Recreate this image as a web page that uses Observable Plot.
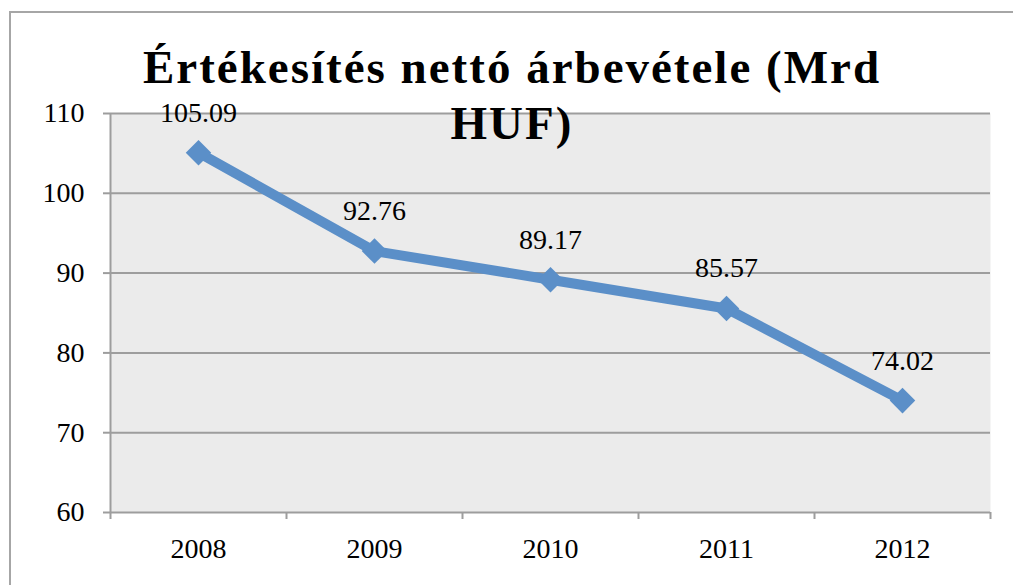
<!DOCTYPE html>
<html>
<head>
<meta charset="utf-8">
<script src="https://cdn.jsdelivr.net/npm/d3@7"></script>
<script src="https://cdn.jsdelivr.net/npm/@observablehq/plot@0.6"></script>
<style>
  html, body { margin: 0; padding: 0; background: #fff; }
  #wrap { position: relative; width: 1013px; height: 585px; overflow: hidden; }
  #border { position: absolute; left: 9px; top: 11px; width: 1100px; height: 700px; border: 2px solid #a6a6a6; box-sizing: border-box; }
  #chart { position: absolute; left: 0; top: 0; }
  #title { position: absolute; left: 122px; top: 39px; width: 780px; text-align: center;
    font-family: "Liberation Serif", "DejaVu Serif", serif; font-weight: bold; font-size: 47px; letter-spacing: 2px;
    line-height: 56px; color: #000; margin: 0; z-index: 2; }
</style>
</head>
<body>
<div id="wrap">
  <div id="border"></div>
  <div id="chart"></div>
  <h2 id="title">Értékesítés nettó árbevétele (Mrd HUF)</h2>
</div>
<script>
const years = [2008, 2009, 2010, 2011, 2012];
const values = [105.09, 92.76, 89.17, 85.57, 74.02];
const yTicks = [60, 70, 80, 90, 100, 110];
const labels = ["105.09", "92.76", "89.17", "85.57", "74.02"];

const data = years.map((year, i) => ({year, value: values[i], label: labels[i]}));
const bounds = years.map(y => y - 0.5).concat([years[years.length - 1] + 0.5]);

const font = '"Liberation Serif", "DejaVu Serif", serif';
const blue = "#5b8fc8";
const grid = "#9d9d9d";

const chart = Plot.plot({
  width: 1013,
  height: 585,
  marginLeft: 110,
  marginRight: 23,
  marginTop: 113,
  marginBottom: 73,
  style: {fontFamily: font, fontSize: "28px", color: "#000", background: "transparent"},
  x: {type: "linear", domain: [years[0] - 0.5, years[years.length - 1] + 0.5], label: null},
  y: {type: "linear", domain: [60, 110], label: null},
  marks: [
    Plot.frame({fill: "#ebebeb", stroke: null}),
    Plot.ruleY(yTicks, {stroke: grid, strokeWidth: 2}),
    Plot.ruleX([years[0] - 0.5], {stroke: grid, strokeWidth: 2}),
    Plot.ruleX(bounds, {x: d => d, y1: 60, y2: 60, insetBottom: -7, stroke: grid, strokeWidth: 2}),
    Plot.axisY({ticks: yTicks, tickSize: 7, tickPadding: 19, stroke: grid, strokeWidth: 2,
      tickFormat: d => String(d), fontSize: 28, fill: "#000", label: null}),
    Plot.axisX({ticks: years, tickSize: 0, tickPadding: 26, tickFormat: d => String(d), fontSize: 28, fill: "#000", label: null}),
    Plot.line(data, {x: "year", y: "value", stroke: blue, strokeWidth: 10}),
    Plot.dot(data, {x: "year", y: "value", symbol: "diamond2", r: 11.5, fill: blue, stroke: null}),
    Plot.text(data, {x: "year", y: "value", text: "label", dy: -31, lineAnchor: "bottom", fontSize: 28, fill: "#000"})
  ]
});

document.getElementById("chart").appendChild(chart);
</script>
</body>
</html>
